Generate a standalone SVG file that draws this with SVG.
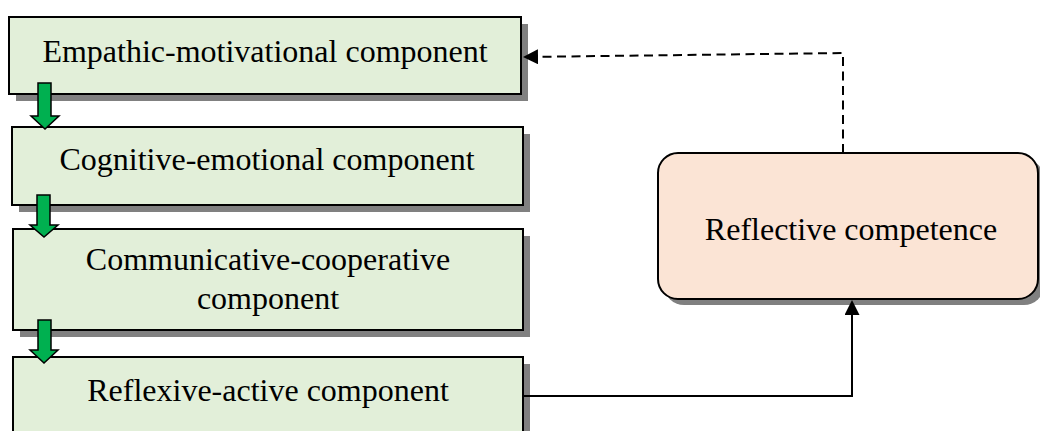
<svg xmlns="http://www.w3.org/2000/svg" width="1040" height="431" viewBox="0 0 1040 431">
<defs>
<style>
.box{fill:#e2efd9;stroke:#000;stroke-width:2}
.rbox{fill:#fbe4d5;stroke:#000;stroke-width:2}
.shadow{fill:#808080}
.lbl{font-family:"Liberation Serif","Times New Roman",serif;font-size:32px;fill:#000;text-anchor:middle}
.garrow{fill:#00b050;stroke:#000;stroke-width:1.5;stroke-linejoin:miter}
.conn{fill:none;stroke:#000;stroke-width:2}
.dash{stroke-dasharray:9 5.5}
</style>
<marker id="ah" viewBox="0 0 15 15" refX="13" refY="7.5" markerWidth="15" markerHeight="15" markerUnits="userSpaceOnUse" orient="auto">
<path d="M0,0 L15,7.5 L0,15 z" fill="#000" stroke="none"/>
</marker>
</defs>
<rect width="1040" height="431" fill="#fff"/>

<g id="node-empathic">
<rect class="shadow" x="16" y="24" width="512" height="77"/>
<rect class="box" x="9" y="17" width="512" height="77"/>
<text class="lbl" x="265" y="62">Empathic-motivational component</text>
</g>

<g id="node-cognitive">
<rect class="shadow" x="19" y="134" width="511" height="78"/>
<rect class="box" x="12" y="127" width="511" height="78"/>
<text class="lbl" x="267" y="170">Cognitive-emotional component</text>
</g>

<g id="node-communicative">
<rect class="shadow" x="20" y="236" width="510" height="101"/>
<rect class="box" x="13" y="229" width="510" height="101"/>
<text class="lbl" x="268" y="270">Communicative-cooperative</text>
<text class="lbl" x="268" y="309">component</text>
</g>

<g id="node-reflexive">
<rect class="shadow" x="20" y="364" width="510" height="80"/>
<rect class="box" x="13" y="357" width="510" height="80"/>
<text class="lbl" x="268" y="401">Reflexive-active component</text>
</g>

<g id="node-competence">
<rect class="shadow" x="664" y="159" width="380" height="146" rx="20" ry="20"/>
<rect class="rbox" x="658" y="153" width="380" height="146" rx="20" ry="20"/>
<text class="lbl" x="851" y="240">Reflective competence</text>
</g>

<g id="connectors">
<polygon class="garrow" points="38,83 51,83 51,116 59,116 45,129 31,116 38,116"/>
<polygon class="garrow" points="37,195 50,195 50,225 58,225 44,237 30,225 37,225"/>
<polygon class="garrow" points="38,320 51,320 51,350 58,350 44,363 30,350 38,350"/>
<path class="conn dash" d="M843,153 V53 L525,57" marker-end="url(#ah)"/>
<path class="conn" d="M523,396 H852 V302" marker-end="url(#ah)"/>
</g>
</svg>
